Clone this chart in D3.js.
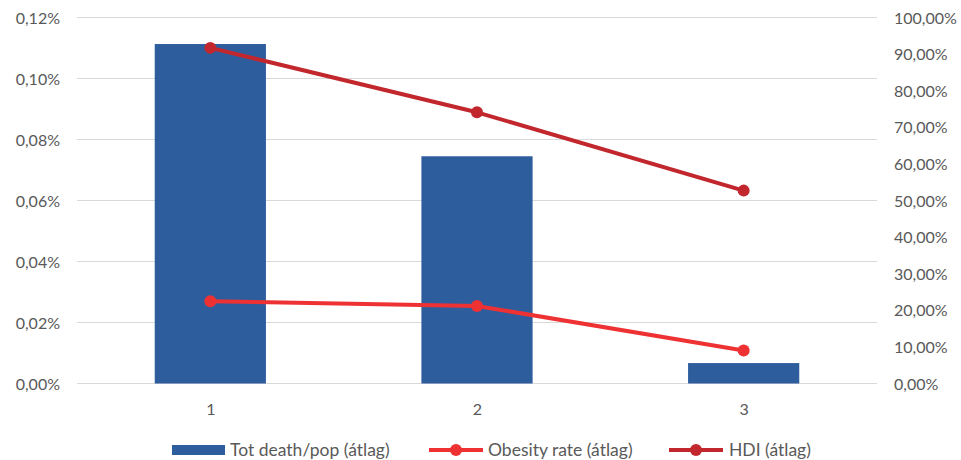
<!DOCTYPE html>
<html>
<head>
<meta charset="utf-8">
<script src="https://cdn.jsdelivr.net/npm/d3@7"></script>
<style>
  body { margin: 0; background: #fff; }
  text { font-family: Lato, "Open Sans", sans-serif; fill: #595959; }
</style>
</head>
<body>
<svg id="chart" width="961" height="460"></svg>
<script>
// Category groups and the three averaged series
const categories = ["1", "2", "3"];
const deathPerPop = [0.001113, 0.000745, 0.000067];   // Tot death/pop (átlag)
const obesityRate = [0.225, 0.212, 0.090];            // Obesity rate (átlag)
const hdi = [0.917, 0.741, 0.527];                    // HDI (átlag)
const leftTicks = [0, 0.0002, 0.0004, 0.0006, 0.0008, 0.0010, 0.0012];
const rightTicks = [0, 0.1, 0.2, 0.3, 0.4, 0.5, 0.6, 0.7, 0.8, 0.9, 1.0];
const seriesNames = ["Tot death/pop (átlag)", "Obesity rate (átlag)", "HDI (átlag)"];

const colors = { bar: "#2E5D9E", obesity: "#EE3234", hdi: "#C1272D" };

const svg = d3.select("#chart");
const plot = { left: 77, right: 877, top: 17.5, bottom: 383.5 };
const tickFont = 16, legendFont = 17.5;

const x = d3.scaleBand().domain(categories).range([plot.left, plot.right]).paddingInner(0.583).paddingOuter(0.2915);
const xPoint = d3.scalePoint().domain(categories).range([plot.left, plot.right]).padding(0.5);
const yLeft = d3.scaleLinear().domain([0, 0.0012]).range([plot.bottom, plot.top]);
const yRight = d3.scaleLinear().domain([0, 1]).range([plot.bottom, plot.top]);

const pctFmt = (digits) => (v) => (v * 100).toFixed(digits).replace(".", ",") + "%";

// Horizontal gridlines
svg.append("g").selectAll("line").data(leftTicks).join("line")
  .attr("x1", plot.left).attr("x2", plot.right)
  .attr("y1", d => yLeft(d)).attr("y2", d => yLeft(d))
  .attr("stroke", "#D9D9D9").attr("stroke-width", 1);

// Left axis
const leftAxis = svg.append("g").attr("transform", `translate(${plot.left - 17},0)`)
  .call(d3.axisLeft(yLeft).tickValues(leftTicks).tickFormat(pctFmt(2)).tickSize(0).tickPadding(0));
leftAxis.select(".domain").remove();
leftAxis.selectAll("text").attr("font-size", tickFont).attr("dy", "0.35em").style("fill", "#595959");

// Right axis
const rightAxis = svg.append("g").attr("transform", `translate(${plot.right + 17},0)`)
  .call(d3.axisRight(yRight).tickValues(rightTicks).tickFormat(pctFmt(2)).tickSize(0).tickPadding(0));
rightAxis.select(".domain").remove();
rightAxis.selectAll("text").attr("font-size", tickFont).attr("dy", "0.35em").style("fill", "#595959");

// Bottom axis labels
const bottomAxis = svg.append("g").attr("transform", `translate(0,${plot.bottom})`)
  .call(d3.axisBottom(xPoint).tickSize(0).tickPadding(20));
bottomAxis.select(".domain").remove();
bottomAxis.selectAll("text").attr("font-size", tickFont).style("fill", "#595959");

// Bars
svg.append("g").selectAll("rect").data(deathPerPop).join("rect")
  .attr("x", (d, i) => x(categories[i]))
  .attr("width", x.bandwidth())
  .attr("y", d => yLeft(d))
  .attr("height", d => yLeft(0) - yLeft(d))
  .attr("fill", colors.bar);

// Lines with markers
function drawLine(values, color) {
  const line = d3.line().x((d, i) => xPoint(categories[i])).y(d => yRight(d));
  svg.append("path").datum(values).attr("d", line)
    .attr("fill", "none").attr("stroke", color).attr("stroke-width", 4).attr("stroke-linejoin", "round");
  svg.append("g").selectAll("circle").data(values).join("circle")
    .attr("cx", (d, i) => xPoint(categories[i])).attr("cy", d => yRight(d))
    .attr("r", 6).attr("fill", color);
}
drawLine(obesityRate, colors.obesity);
drawLine(hdi, colors.hdi);

// Legend
const legendY = 450;
const legend = svg.append("g");
legend.append("rect").attr("x", 172).attr("y", legendY - 5).attr("width", 53).attr("height", 10).attr("fill", colors.bar);
legend.append("text").attr("x", 230).attr("y", legendY).attr("dy", "0.35em").attr("font-size", legendFont).text(seriesNames[0]);

legend.append("line").attr("x1", 429).attr("x2", 483).attr("y1", legendY).attr("y2", legendY)
  .attr("stroke", colors.obesity).attr("stroke-width", 4);
legend.append("circle").attr("cx", 456).attr("cy", legendY).attr("r", 6).attr("fill", colors.obesity);
legend.append("text").attr("x", 488).attr("y", legendY).attr("dy", "0.35em").attr("font-size", legendFont).text(seriesNames[1]);

legend.append("line").attr("x1", 669).attr("x2", 723).attr("y1", legendY).attr("y2", legendY)
  .attr("stroke", colors.hdi).attr("stroke-width", 4);
legend.append("circle").attr("cx", 696).attr("cy", legendY).attr("r", 6).attr("fill", colors.hdi);
legend.append("text").attr("x", 729).attr("y", legendY).attr("dy", "0.35em").attr("font-size", legendFont).text(seriesNames[2]);
</script>
</body>
</html>
